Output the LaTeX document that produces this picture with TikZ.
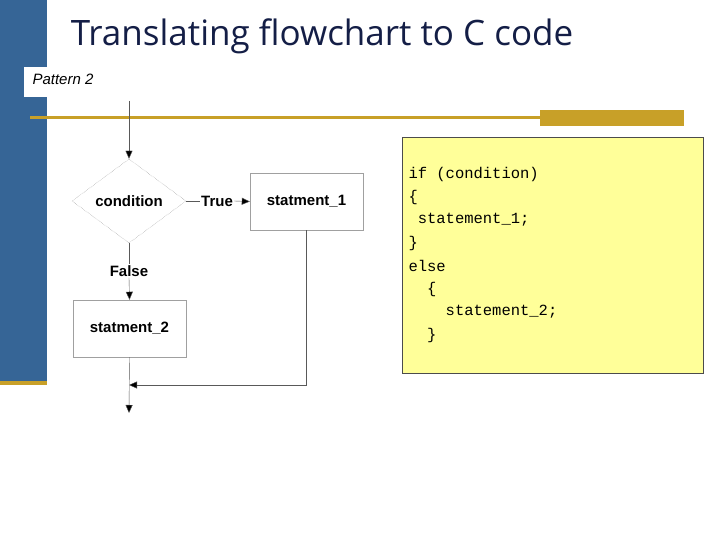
\documentclass[tikz,border=0pt]{standalone}
\usepackage{fontspec}
\setmainfont{Liberation Sans}
\newfontfamily\titlefont{Open Sans}
\newfontfamily\codefont{Liberation Mono}
\usetikzlibrary{shapes.geometric, arrows.meta, positioning}
\definecolor{barblue}{RGB}{54, 101, 150}
\definecolor{gold1}{RGB}{200, 160, 40}
\definecolor{titleblue}{RGB}{20, 30, 70}
\definecolor{codebg}{RGB}{255, 255, 153}
\definecolor{edgegray}{RGB}{160, 160, 160}

\begin{document}
\begin{tikzpicture}[x=1pt, y=-1pt,
  flow/.style={draw=edgegray, font=\bfseries\fontsize{15}{17}\selectfont, inner sep=0pt},
  conn/.style={draw=gray!70!black, -{Triangle[length=8pt, width=7pt, fill=black]}},
  codeline/.style={font=\codefont\fontsize{15.5}{17}\selectfont, anchor=west},
]
\useasboundingbox (0,0) rectangle (720,540);
% Slide frame
\fill[barblue] (0,0) rectangle (47,381);
\fill[gold1] (0,381) rectangle (47,385);
\fill[gold1] (30,116) rectangle (684,119);
\fill[gold1] (540,110) rectangle (684,126);
\node[font=\titlefont\fontsize{35}{38}\selectfont, titleblue] (title) at (322,36) {Translating flowchart to C code};
\node[fill=white, minimum width=106pt, minimum height=30pt, anchor=north west] (pat) at (24,67) {};
\node[font=\itshape\fontsize{15}{17}\selectfont, anchor=west] (pattxt) at (29,79) {Pattern 2};

% Flowchart
\coordinate (start) at (129,101);
\node[flow, diamond, densely dotted, draw=gray, minimum width=114pt, minimum height=84pt, aspect=1.35] (cond) at (129,201) {condition};
\node[flow, minimum width=113pt, minimum height=57pt] (s1) at (306.5,201.5) {statment\_1};
\node[flow, minimum width=113pt, minimum height=57pt] (s2) at (129.5,328.5) {statment\_2};
\node[flow, draw=none, fill=white, inner sep=1pt] (true) at (217,201) {True};
\node[flow, draw=none, fill=white, inner sep=1pt] (false) at (129,271) {False};
\coordinate (join) at (129,385);
\coordinate (stop) at (129,413);

\draw[conn] (start) -- (cond.north);
\draw[draw=gray!70!black] (cond.east) -- (true.west);
\draw[conn] (true.east) -- (s1.west);
\draw[draw=gray!70!black] (cond.south) -- (false.north);
\draw[conn] (false.south) -- (s2.north);
\draw[conn] (s1.south) |- (join);
\draw[conn] (s2.south) -- (stop);

% C code
\node[draw=gray!60!black, fill=codebg, minimum width=301pt, minimum height=236pt, anchor=north west] (code) at (402,137) {};
\node[codeline] (c1) at (405,174) {if (condition)};
\node[codeline] (c2) at (405,197) {\{};
\node[codeline] (c3) at (405,220) {~statement\_1;};
\node[codeline] (c4) at (405,243) {\}};
\node[codeline] (c5) at (405,266) {else};
\node[codeline] (c6) at (405,289) {~~\{};
\node[codeline] (c7) at (405,312) {~~~~statement\_2;};
\node[codeline] (c8) at (405,335) {~~\}};
\end{tikzpicture}
\end{document}
